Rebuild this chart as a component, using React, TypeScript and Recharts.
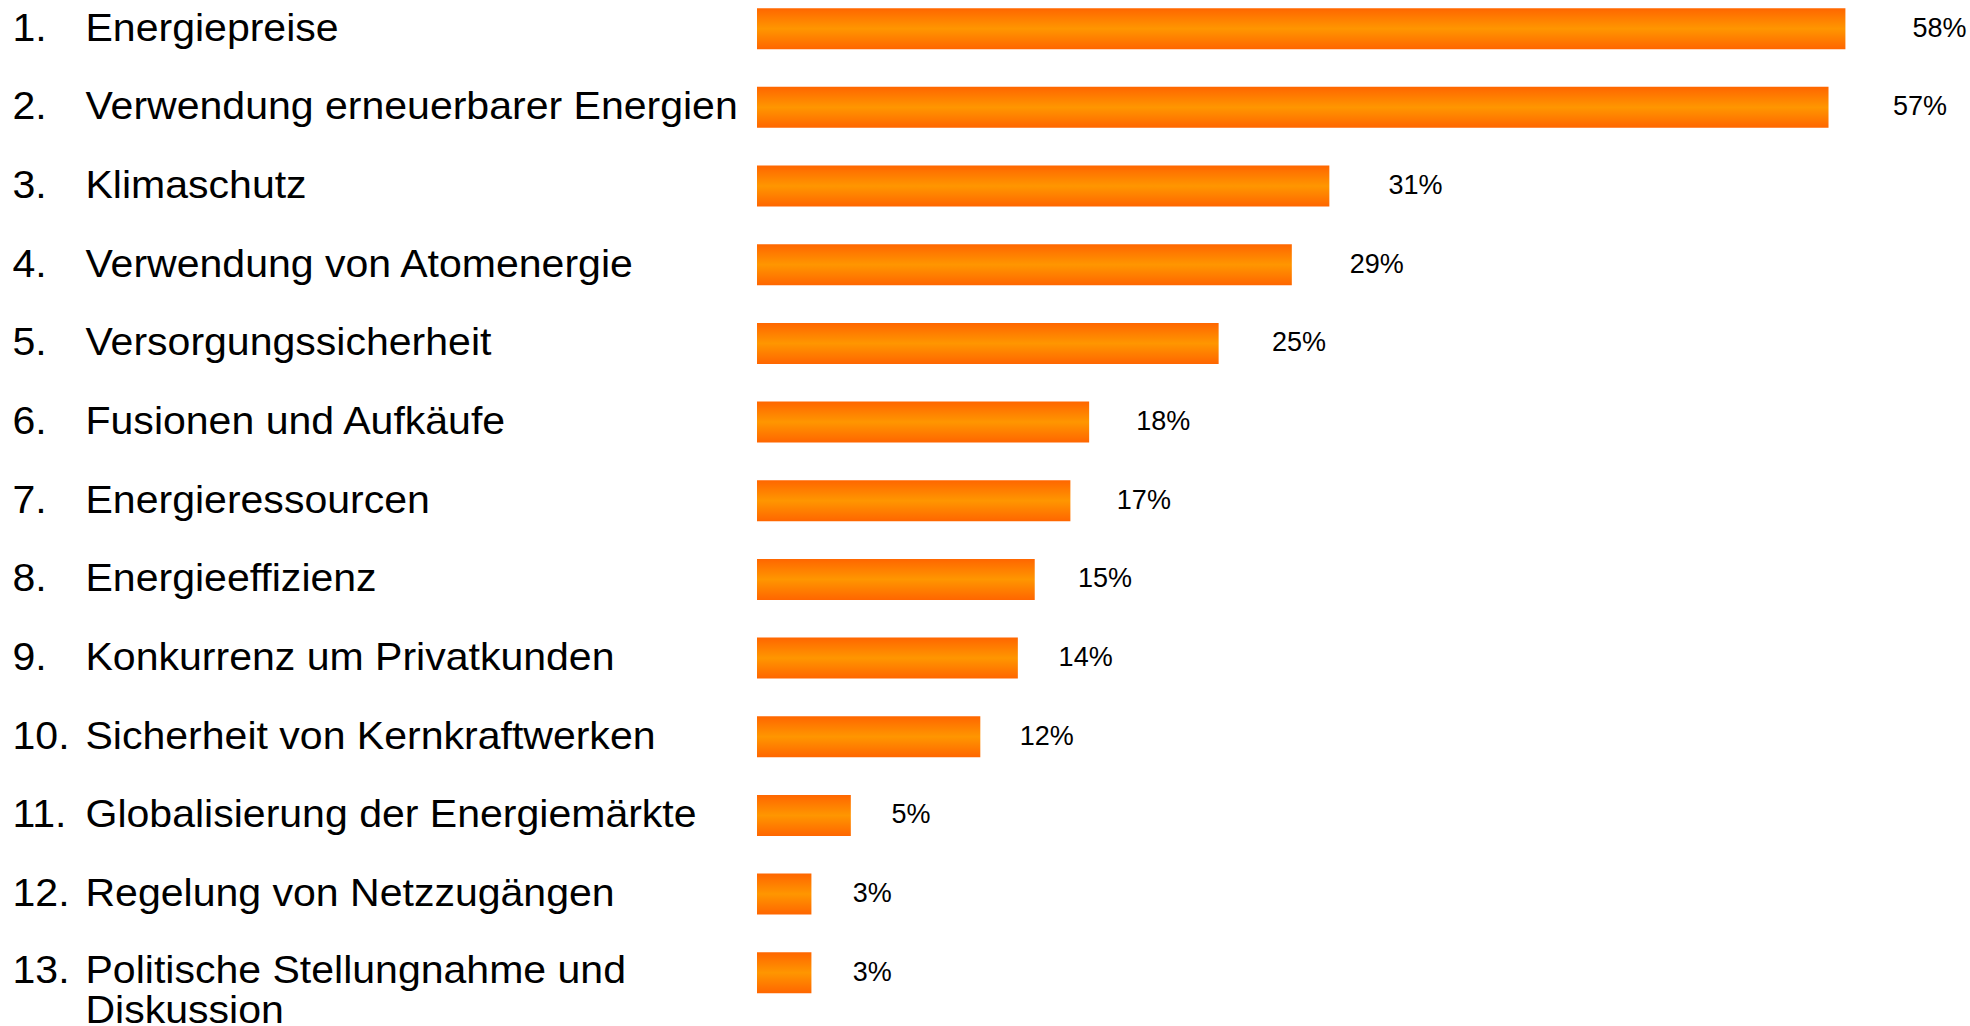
import React from 'react';
import { BarChart, Bar, XAxis, YAxis, LabelList } from 'recharts';

// Themen, Anteil der Nennungen (Balkenlänge) und gedruckte Prozentwerte
const categories = [
  'Energiepreise',
  'Verwendung erneuerbarer Energien',
  'Klimaschutz',
  'Verwendung von Atomenergie',
  'Versorgungssicherheit',
  'Fusionen und Aufkäufe',
  'Energieressourcen',
  'Energieeffizienz',
  'Konkurrenz um Privatkunden',
  'Sicherheit von Kernkraftwerken',
  'Globalisierung der Energiemärkte',
  'Regelung von Netzzugängen',
  'Politische Stellungnahme und Diskussion',
];
const shares = [58, 57.1, 30.5, 28.5, 24.6, 17.7, 16.7, 14.8, 13.9, 11.9, 5, 2.9, 2.9];
const printedPercents = [58, 57, 31, 29, 25, 18, 17, 15, 14, 12, 5, 3, 3];

const data = categories.map((name, i) => ({ name, share: shares[i] }));

const FONT = '"Liberation Sans", Arial, sans-serif';

const wrap = (text: string, max: number) => {
  const lines: string[] = [];
  let cur = '';
  text.split(' ').forEach(w => {
    const next = cur ? cur + ' ' + w : w;
    if (next.length > max && cur) {
      lines.push(cur);
      cur = w;
    } else {
      cur = next;
    }
  });
  if (cur) lines.push(cur);
  return lines;
};

// the original labels are set a bit wider than plain Arial, hence the x stretch
const CategoryTick = (props: any) => {
  const { y, payload } = props;
  const idx = categories.indexOf(payload.value);
  const lines = wrap(payload.value, 32);
  const first = lines.length > 1 ? y + 10.5 : y + 12;
  return (
    <g>
      <g transform={`translate(12.5 ${first}) scale(1.08 1)`}>
        <text x={0} y={0} fontFamily={FONT} fontSize={38} fill="#000">
          {idx + 1}.
        </text>
      </g>
      <g transform={`translate(85.5 ${first}) scale(1.08 1)`}>
        <text x={0} y={0} fontFamily={FONT} fontSize={38} fill="#000">
          {lines.map((l, i) => (
            <tspan key={i} x={0} dy={i === 0 ? 0 : 40}>
              {l}
            </tspan>
          ))}
        </text>
      </g>
    </g>
  );
};

const PercentLabel = (props: any) => {
  const { x, y, width, height, index } = props;
  const pxPerUnit = width / shares[index];
  const pct = printedPercents[index];
  const cx = x + 57 + pxPerUnit * 1.034 * pct;
  return (
    <text x={cx} y={y + height / 2 + 8} textAnchor="middle" fontFamily={FONT} fontSize={27} fill="#000">
      {pct}%
    </text>
  );
};

const App: React.FC = () => {
  return (
    <div style={{ position: 'absolute', left: 0, top: -20, background: '#fff' }}>
      <BarChart
        width={1970}
        height={1046}
        data={data}
        layout="vertical"
        margin={{ top: 9.2, right: 12, bottom: 14.1, left: 0 }}
        barSize={41}
      >
        <defs>
          <linearGradient id="barFill" x1="0" y1="0" x2="0" y2="1">
            <stop offset="0%" stopColor="#FF6600" />
            <stop offset="50%" stopColor="#FF9600" />
            <stop offset="100%" stopColor="#FF6600" />
          </linearGradient>
        </defs>
        <XAxis type="number" domain={[0, 64]} hide />
        <YAxis
          type="category"
          dataKey="name"
          width={757}
          axisLine={false}
          tickLine={false}
          tick={<CategoryTick />}
          interval={0}
        />
        <Bar dataKey="share" fill="url(#barFill)" isAnimationActive={false}>
          <LabelList dataKey="share" content={<PercentLabel />} />
        </Bar>
      </BarChart>
    </div>
  );
};

export default App;
